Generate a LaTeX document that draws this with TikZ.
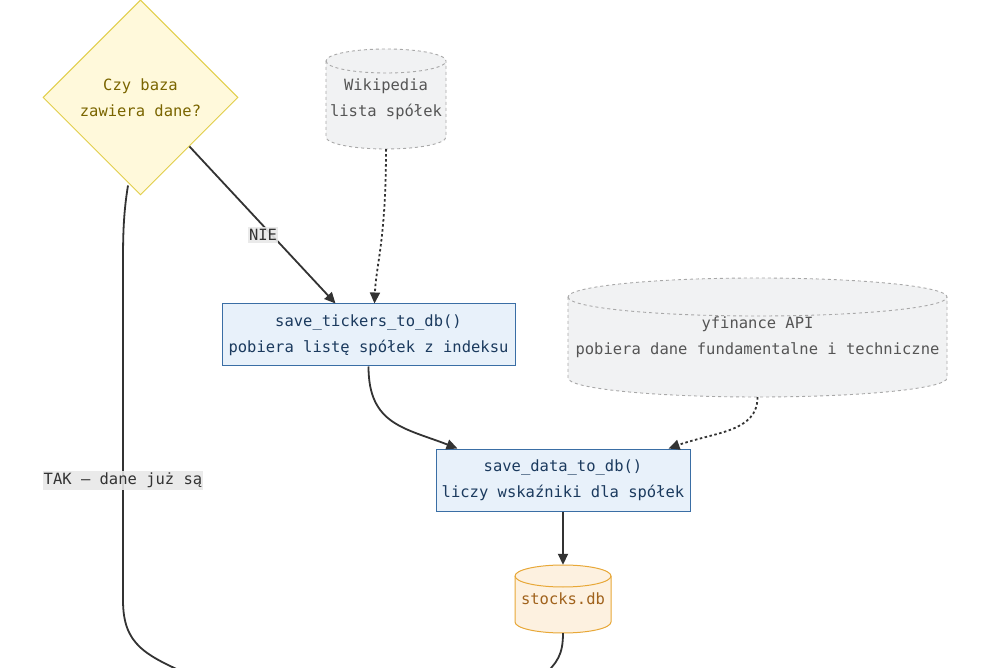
\documentclass[tikz,border=0pt]{standalone}
\usepackage{fontspec}
\setmainfont{DejaVu Sans Mono}
\usetikzlibrary{shapes.geometric,arrows.meta,calc}
\definecolor{diafill}{HTML}{FFF9DB}
\definecolor{diadraw}{HTML}{E2CF4A}
\definecolor{diatext}{HTML}{7A6500}
\definecolor{boxfill}{HTML}{E8F1FA}
\definecolor{boxdraw}{HTML}{3A6EA5}
\definecolor{boxtext}{HTML}{1B3A5E}
\definecolor{grayfill}{HTML}{F1F2F3}
\definecolor{graydraw}{HTML}{A8A8A8}
\definecolor{graytext}{HTML}{555555}
\definecolor{dbfill}{HTML}{FDF1E0}
\definecolor{dbdraw}{HTML}{E8A838}
\definecolor{dbtext}{HTML}{A0621C}
\definecolor{edgecol}{HTML}{333333}
\definecolor{lblbg}{HTML}{E8E8E8}
\newcommand\drawcyl[6]{%
  \path[#1] ({#2-#5},{#3+#6}) -- ({#2-#5},{#4-#6})
    arc[start angle=180,end angle=360,x radius=#5pt,y radius=#6pt]
    -- ({#2+#5},{#3+#6})
    arc[start angle=0,end angle=180,x radius=#5pt,y radius=#6pt] -- cycle;
  \path[#1,fill=none] ({#2-#5},{#3+#6})
    arc[start angle=180,end angle=360,x radius=#5pt,y radius=#6pt];
}
\tikzset{
  txt/.style={font=\fontsize{15.5}{26}\selectfont, align=center},
  decision/.style={txt, diamond, draw=diadraw, fill=diafill, text=diatext, line width=1pt,
    minimum width=195pt, minimum height=195pt, inner sep=0pt},
  procbox/.style={txt, rectangle, draw=boxdraw, fill=boxfill, text=boxtext, line width=1pt, inner sep=0pt},
  cyltext/.style={txt, rectangle, inner sep=0pt},
  graycyl/.style={fill=grayfill, draw=graydraw, line width=0.9pt, dash pattern=on 3pt off 3pt},
  dbcyl/.style={fill=dbfill, draw=dbdraw, line width=1pt},
  flow/.style={draw=edgecol, line width=1.8pt, -{Triangle[length=11pt,width=10pt]}},
  flowplain/.style={draw=edgecol, line width=1.8pt},
  dottedflow/.style={flow, dash pattern=on 2.5pt off 2.5pt},
  lbl/.style={font=\fontsize{15.5}{18}\selectfont, fill=lblbg, text=edgecol, inner xsep=1pt, inner ysep=2pt, fill opacity=0.9, text opacity=1}
}
\begin{document}
\begin{tikzpicture}[x=1pt,y=-1pt]
\useasboundingbox (0,0) rectangle (991,668);
\fill[white] (0,0) rectangle (991,668);
\clip (0,0) rectangle (991,668);

% cylinders
\drawcyl{graycyl}{386}{49}{149}{60}{12}
\drawcyl{graycyl}{757.5}{278}{397}{189.5}{19}
\drawcyl{dbcyl}{563}{565}{633}{48}{11}

% nodes
\node[decision] (dia) at (140.5,97.5) {Czy baza\\zawiera dane?};
\node[cyltext, text=graytext, minimum width=120pt, minimum height=100pt] (wiki) at (386,99) {Wikipedia\\lista spółek};
\node[cyltext, text=graytext, minimum width=379pt, minimum height=119pt] (yfin) at (757.5,337.5) {yfinance API\\pobiera dane fundamentalne i techniczne};
\node[cyltext, text=dbtext, minimum width=96pt, minimum height=68pt] (stocks) at (563,599) {stocks.db};
\node[procbox, minimum width=293pt, minimum height=62pt] (tick) at (368.5,335) {save\_tickers\_to\_db()\\pobiera listę spółek z indeksu};
\node[procbox, minimum width=254pt, minimum height=62pt] (data) at (563,480) {save\_data\_to\_db()\\liczy wskaźniki dla spółek};

\coordinate (offT) at (140.5,-40);
\coordinate (offA) at (192,676);
\coordinate (offB) at (543,676);

% edges
\draw[flow] (offT) -- (dia.north);
\draw[flow] (dia.south east) -- ($(tick.north)+(-33,0)$);
\node[lbl] (nie) at (263,235) {NIE};
\draw[dottedflow] (wiki.south) .. controls (386,240) and (376,265) .. ($(tick.north)+(6,0)$);
\draw[flow] (tick.south) .. controls (368.5,425) and (405,428) .. ($(data.north west)+(22,0)$);
\draw[dottedflow] (yfin.south) .. controls (757.5,432) and (715,432) .. ($(data.north east)+(-22,0)$);
\draw[flow] (data.south) -- (stocks.north);
\draw[flowplain] (stocks.south) .. controls (563,655) and (557,663) .. (offB);
\draw[flowplain] ($(dia.south)+(-12.5,-10)$) .. controls (124,210) and (123,230) .. (123,260)
  -- (123,600) .. controls (123,645) and (145,655) .. (offA);
\node[lbl] (tak) at (123,480) {TAK — dane już są};
\end{tikzpicture}
\end{document}
